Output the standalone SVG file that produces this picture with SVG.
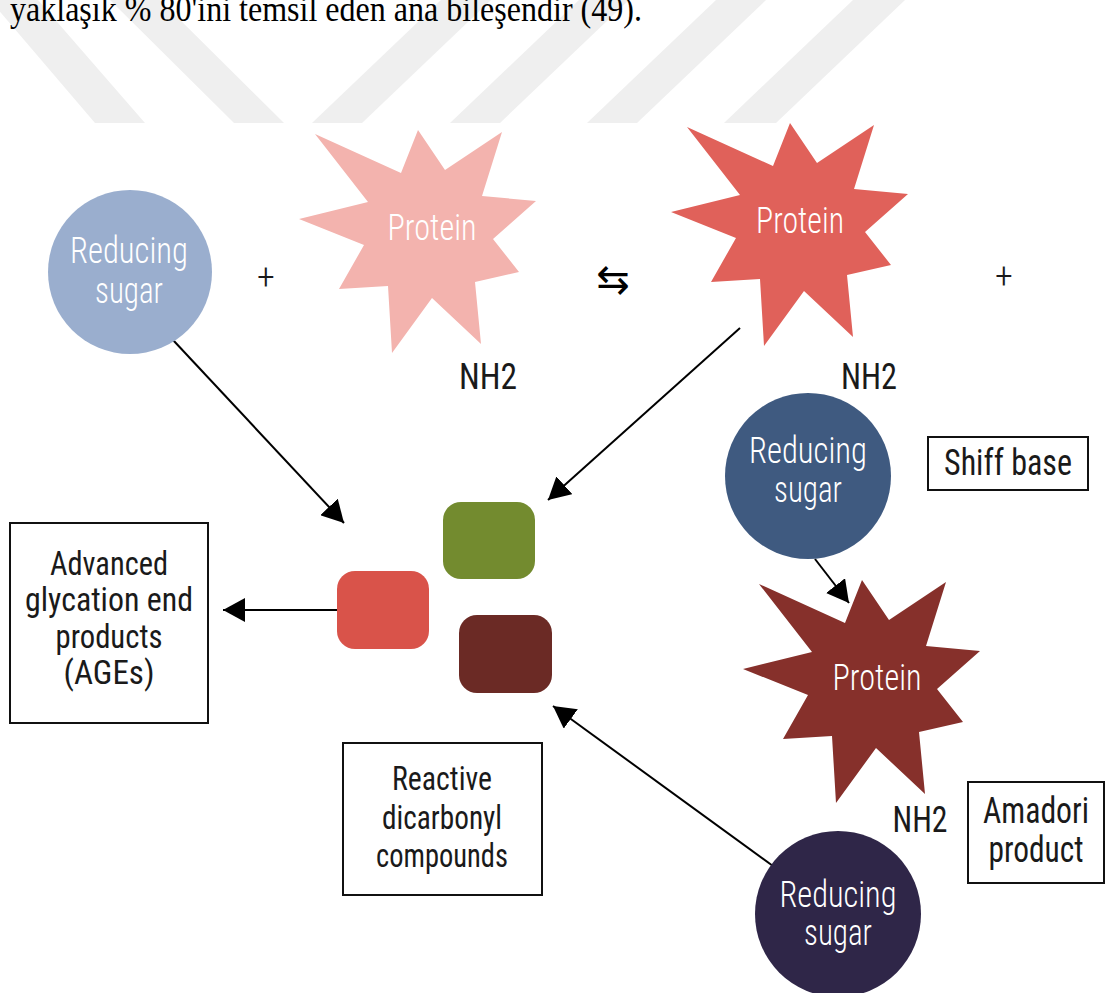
<svg xmlns="http://www.w3.org/2000/svg" xmlns:xlink="http://www.w3.org/1999/xlink" width="1106" height="993" viewBox="0 0 1106 993">
<style>
.t{font-family:"Liberation Sans Narrow","Roboto Condensed","DejaVu Sans Condensed","Liberation Sans",Arial,sans-serif;font-size:36px;font-weight:300;text-anchor:middle}
.s{font-size:34px}
.w{fill:#ffffff}
.k{fill:#1a1a1a;font-weight:400}
.b{font-size:34px}
.box{fill:#ffffff;stroke:#111111;stroke-width:2}
.conn{stroke:#000000;stroke-width:2;fill:none;marker-end:url(#ah)}
.wm{fill:#efefef}
</style>
<defs>
<marker id="ah" markerUnits="userSpaceOnUse" markerWidth="24" markerHeight="24" refX="22" refY="12" orient="auto"><path d="M0,0 L22,12 L0,24 Z" fill="#000000"/></marker>
<polygon id="star" points="0,-112 27,-72 84,-110 64,-46 118,-41 75,-3 101,30 57,40 63,102 14,56 -26,111 -30,44 -79,47 -54,3 -119,-23 -50,-40 -103,-108 -17,-69"/>
</defs>
<rect width="1106" height="993" fill="#ffffff"/>
<g id="watermark">
<polygon class="wm" points="-10,0 38,0 145,123 95,123"/>
<polygon class="wm" points="110,0 160,0 284,123 234,123"/>
<polygon class="wm" points="441,0 491,0 362,123 312,123"/>
<polygon class="wm" points="579,0 629,0 500,123 450,123"/>
<polygon class="wm" points="716,0 766,0 637,123 587,123"/>
<polygon class="wm" points="853,0 905,0 776,123 724,123"/>
</g>
<text x="10" y="21" font-family="'Liberation Serif','Times New Roman',serif" font-size="35" textLength="632" lengthAdjust="spacingAndGlyphs" fill="#000">yaklaşık % 80'ini temsil eden ana bileşendir (49).</text>
<g id="connectors">
<path class="conn" d="M173,340 L344,523"/>
<path class="conn" d="M740,328 L548,500"/>
<path class="conn" d="M815,559 L849,603"/>
<path class="conn" d="M773,866 L553,706"/>
<path class="conn" d="M337,610 L223,610"/>
</g>
<g id="sugar1">
<circle cx="130" cy="272" r="82" fill="#9AAECE"/>
<text class="t w" x="129" y="263" textLength="118" lengthAdjust="spacingAndGlyphs">Reducing</text>
<text class="t w" x="129" y="303" textLength="68" lengthAdjust="spacingAndGlyphs">sugar</text>
</g>
<text id="plus1" class="t" x="266" y="289" font-size="38" fill="#1a1a1a">+</text>
<g id="protein1">
<use xlink:href="#star" href="#star" x="418" y="242" fill="#F3B3AE"/>
<text class="t w" x="432" y="240" textLength="89" lengthAdjust="spacingAndGlyphs">Protein</text>
</g>
<text id="nh2a" class="t k" x="488" y="389" textLength="58" lengthAdjust="spacingAndGlyphs">NH2</text>
<text id="equil" x="613" y="293" font-family="'DejaVu Sans',sans-serif" font-size="40" text-anchor="middle" fill="#000">⇆</text>
<g id="protein2">
<use xlink:href="#star" href="#star" x="790" y="235" fill="#E0615A"/>
<text class="t w" x="800" y="233" textLength="88" lengthAdjust="spacingAndGlyphs">Protein</text>
</g>
<text id="nh2b" class="t k" x="869" y="389" textLength="56" lengthAdjust="spacingAndGlyphs">NH2</text>
<text id="plus2" class="t" x="1004" y="288" font-size="38" fill="#1a1a1a">+</text>
<g id="sugar2">
<circle cx="808" cy="476" r="83" fill="#3F5A80"/>
<text class="t w" x="808" y="463" textLength="118" lengthAdjust="spacingAndGlyphs">Reducing</text>
<text class="t w" x="808" y="502" textLength="68" lengthAdjust="spacingAndGlyphs">sugar</text>
</g>
<g id="shiff">
<rect class="box" x="928" y="437" width="160" height="53"/>
<text class="t k" x="1008" y="475" textLength="128" lengthAdjust="spacingAndGlyphs">Shiff base</text>
</g>
<g id="protein3">
<use xlink:href="#star" href="#star" x="862" y="692" fill="#86302B"/>
<text class="t w" x="877" y="690" textLength="89" lengthAdjust="spacingAndGlyphs">Protein</text>
</g>
<text id="nh2c" class="t k" x="920" y="832" textLength="55" lengthAdjust="spacingAndGlyphs">NH2</text>
<g id="amadori">
<rect class="box" x="968" y="782" width="136" height="101"/>
<text class="t k" x="1036" y="823" textLength="106" lengthAdjust="spacingAndGlyphs">Amadori</text>
<text class="t k" x="1036" y="862" textLength="95" lengthAdjust="spacingAndGlyphs">product</text>
</g>
<g id="sugar3">
<circle cx="838" cy="914" r="83" fill="#2F2648"/>
<text class="t w" x="838" y="907" textLength="117" lengthAdjust="spacingAndGlyphs">Reducing</text>
<text class="t w" x="838" y="945" textLength="68" lengthAdjust="spacingAndGlyphs">sugar</text>
</g>
<g id="dicarbonyls">
<rect x="443" y="502" width="92" height="77" rx="18" fill="#738B2F"/>
<rect x="337" y="571" width="92" height="78" rx="18" fill="#D9534A"/>
<rect x="459" y="615" width="93" height="78" rx="18" fill="#6B2A25"/>
</g>
<g id="ages">
<rect class="box" x="10" y="523" width="198" height="200"/>
<text class="t k b" x="109" y="575" textLength="118" lengthAdjust="spacingAndGlyphs">Advanced</text>
<text class="t k b" x="109" y="611" textLength="168" lengthAdjust="spacingAndGlyphs">glycation end</text>
<text class="t k b" x="109" y="648" textLength="107" lengthAdjust="spacingAndGlyphs">products</text>
<text class="t k b" x="109" y="684" textLength="91" lengthAdjust="spacingAndGlyphs">(AGEs)</text>
</g>
<g id="reactive">
<rect class="box" x="343" y="743" width="199" height="152"/>
<text class="t s k" x="442" y="790" textLength="100" lengthAdjust="spacingAndGlyphs">Reactive</text>
<text class="t s k" x="442" y="829" textLength="120" lengthAdjust="spacingAndGlyphs">dicarbonyl</text>
<text class="t s k" x="442" y="867" textLength="132" lengthAdjust="spacingAndGlyphs">compounds</text>
</g>
</svg>
